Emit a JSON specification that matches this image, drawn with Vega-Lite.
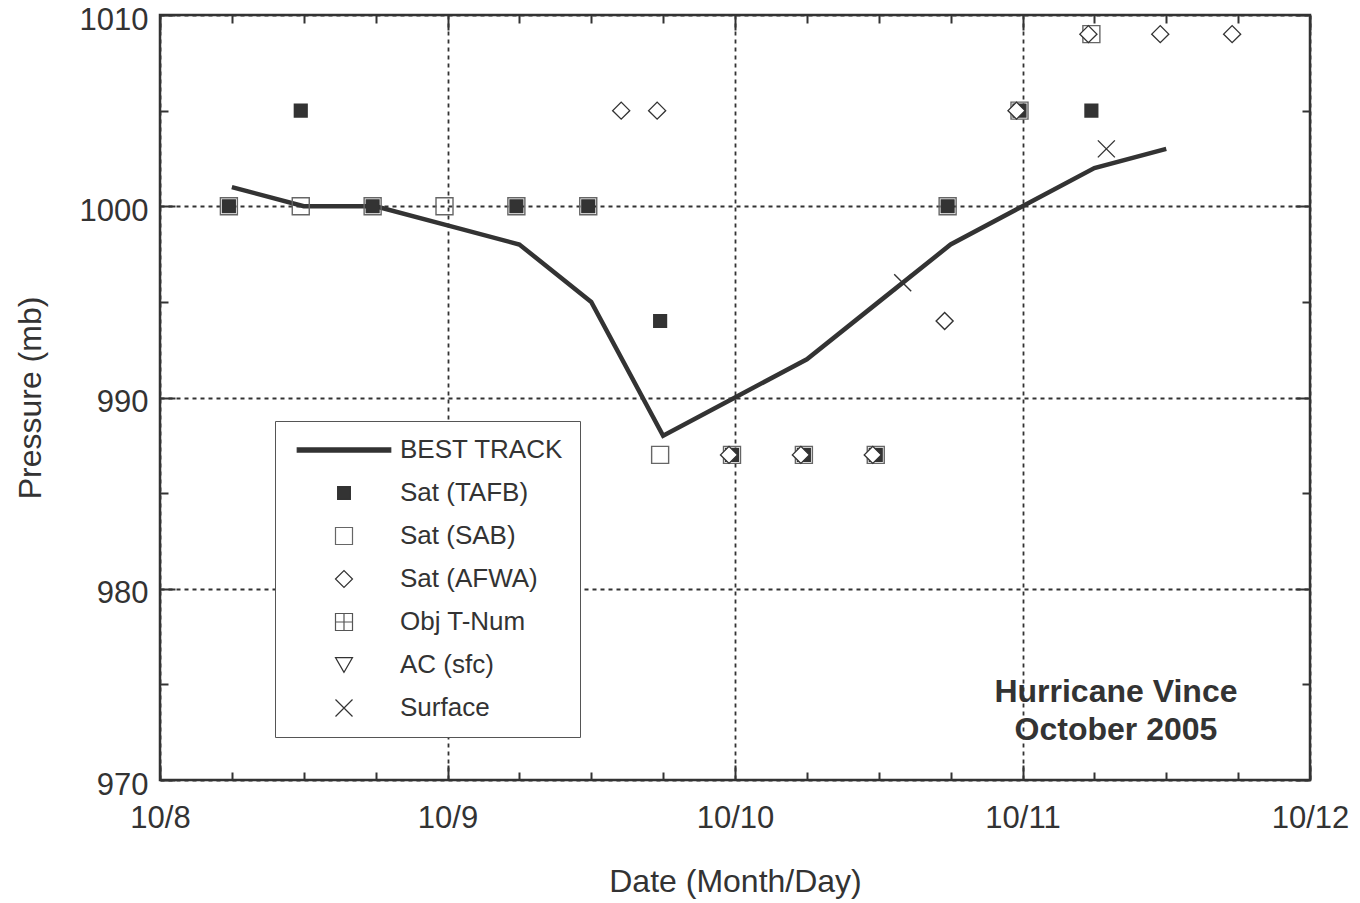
{
  "$schema": "https://vega.github.io/schema/vega-lite/v6.json",
  "width": 1150,
  "height": 765,
  "autosize": {"type": "none"},
  "padding": {"left": 160, "top": 15, "right": 50, "bottom": 123},
  "background": "white",
  "config": {
    "font": "Liberation Sans",
    "view": {"stroke": "#333333", "strokeWidth": 2.5},
    "axis": {"labelFont": "Liberation Sans", "titleFont": "Liberation Sans", "labelColor": "#333333", "titleColor": "#333333", "tickColor": "#333333", "tickWidth": 2, "titleFontWeight": "normal", "labelFlush": false}
  },
  "datasets": {
    "best": [
      {"time": "2005-10-08T06:00:00Z", "pressure": 1001},
      {"time": "2005-10-08T12:00:00Z", "pressure": 1000},
      {"time": "2005-10-08T18:00:00Z", "pressure": 1000},
      {"time": "2005-10-09T00:00:00Z", "pressure": 999},
      {"time": "2005-10-09T06:00:00Z", "pressure": 998},
      {"time": "2005-10-09T12:00:00Z", "pressure": 995},
      {"time": "2005-10-09T18:00:00Z", "pressure": 988},
      {"time": "2005-10-10T00:00:00Z", "pressure": 990},
      {"time": "2005-10-10T06:00:00Z", "pressure": 992},
      {"time": "2005-10-10T12:00:00Z", "pressure": 995},
      {"time": "2005-10-10T18:00:00Z", "pressure": 998},
      {"time": "2005-10-11T00:00:00Z", "pressure": 1000},
      {"time": "2005-10-11T06:00:00Z", "pressure": 1002},
      {"time": "2005-10-11T12:00:00Z", "pressure": 1003}
    ],
    "fixes": [
      {"series": "Sat (SAB)", "time": "2005-10-08T05:45:00Z", "pressure": 1000},
      {"series": "Sat (SAB)", "time": "2005-10-08T11:45:00Z", "pressure": 1000},
      {"series": "Sat (SAB)", "time": "2005-10-08T17:45:00Z", "pressure": 1000},
      {"series": "Sat (SAB)", "time": "2005-10-08T23:45:00Z", "pressure": 1000},
      {"series": "Sat (SAB)", "time": "2005-10-09T05:45:00Z", "pressure": 1000},
      {"series": "Sat (SAB)", "time": "2005-10-09T11:45:00Z", "pressure": 1000},
      {"series": "Sat (SAB)", "time": "2005-10-09T17:45:00Z", "pressure": 987},
      {"series": "Sat (SAB)", "time": "2005-10-09T23:45:00Z", "pressure": 987},
      {"series": "Sat (SAB)", "time": "2005-10-10T05:45:00Z", "pressure": 987},
      {"series": "Sat (SAB)", "time": "2005-10-10T11:45:00Z", "pressure": 987},
      {"series": "Sat (SAB)", "time": "2005-10-10T17:45:00Z", "pressure": 1000},
      {"series": "Sat (SAB)", "time": "2005-10-10T23:45:00Z", "pressure": 1005},
      {"series": "Sat (SAB)", "time": "2005-10-11T05:45:00Z", "pressure": 1009},
      {"series": "Sat (TAFB)", "time": "2005-10-08T05:45:00Z", "pressure": 1000},
      {"series": "Sat (TAFB)", "time": "2005-10-08T11:45:00Z", "pressure": 1005},
      {"series": "Sat (TAFB)", "time": "2005-10-08T17:45:00Z", "pressure": 1000},
      {"series": "Sat (TAFB)", "time": "2005-10-09T05:45:00Z", "pressure": 1000},
      {"series": "Sat (TAFB)", "time": "2005-10-09T11:45:00Z", "pressure": 1000},
      {"series": "Sat (TAFB)", "time": "2005-10-09T17:45:00Z", "pressure": 994},
      {"series": "Sat (TAFB)", "time": "2005-10-09T23:45:00Z", "pressure": 987},
      {"series": "Sat (TAFB)", "time": "2005-10-10T05:45:00Z", "pressure": 987},
      {"series": "Sat (TAFB)", "time": "2005-10-10T11:45:00Z", "pressure": 987},
      {"series": "Sat (TAFB)", "time": "2005-10-10T17:45:00Z", "pressure": 1000},
      {"series": "Sat (TAFB)", "time": "2005-10-10T23:45:00Z", "pressure": 1005},
      {"series": "Sat (TAFB)", "time": "2005-10-11T05:45:00Z", "pressure": 1005},
      {"series": "Sat (AFWA)", "time": "2005-10-09T14:30:00Z", "pressure": 1005},
      {"series": "Sat (AFWA)", "time": "2005-10-09T17:30:00Z", "pressure": 1005},
      {"series": "Sat (AFWA)", "time": "2005-10-09T23:30:00Z", "pressure": 987},
      {"series": "Sat (AFWA)", "time": "2005-10-10T05:30:00Z", "pressure": 987},
      {"series": "Sat (AFWA)", "time": "2005-10-10T11:30:00Z", "pressure": 987},
      {"series": "Sat (AFWA)", "time": "2005-10-10T17:30:00Z", "pressure": 994},
      {"series": "Sat (AFWA)", "time": "2005-10-10T23:30:00Z", "pressure": 1005},
      {"series": "Sat (AFWA)", "time": "2005-10-11T05:30:00Z", "pressure": 1009},
      {"series": "Sat (AFWA)", "time": "2005-10-11T11:30:00Z", "pressure": 1009},
      {"series": "Sat (AFWA)", "time": "2005-10-11T17:30:00Z", "pressure": 1009},
      {"series": "Surface", "time": "2005-10-10T14:00:00Z", "pressure": 996},
      {"series": "Surface", "time": "2005-10-11T07:00:00Z", "pressure": 1003}
    ],
    "note": [
      {"time": "2005-10-11T07:48:00Z", "pressure": 974.6, "label": "Hurricane Vince\nOctober 2005"}
    ]
  },
  "resolve": {"axis": {"x": "independent", "y": "independent"}},
  "layer": [
    {
      "data": {"name": "best"},
      "mark": {"type": "line", "color": "#333333", "strokeWidth": 4.5, "strokeJoin": "miter"},
      "encoding": {
        "x": {
          "field": "time", "type": "temporal",
          "scale": {"type": "utc", "domain": [{"year": 2005, "month": 10, "date": 8, "utc": true}, {"year": 2005, "month": 10, "date": 12, "utc": true}]},
          "axis": {
            "orient": "bottom",
            "values": [
              {"year": 2005, "month": 10, "date": 8, "utc": true},
              {"year": 2005, "month": 10, "date": 9, "utc": true},
              {"year": 2005, "month": 10, "date": 10, "utc": true},
              {"year": 2005, "month": 10, "date": 11, "utc": true},
              {"year": 2005, "month": 10, "date": 12, "utc": true}
            ],
            "labelExpr": "utcFormat(datum.value, '%-m/%-d')",
            "ticks": false, "domain": false,
            "grid": true, "gridDash": [4, 4], "gridColor": "#333333", "gridWidth": 1.8,
            "labelFontSize": 31, "labelPadding": 23,
            "title": "Date (Month/Day)", "titleFontSize": 32, "titlePadding": 33
          }
        },
        "y": {
          "field": "pressure", "type": "quantitative",
          "scale": {"domain": [970, 1010], "nice": false, "zero": false},
          "axis": {
            "orient": "left",
            "values": [970, 980, 990, 1000, 1010],
            "format": "d",
            "ticks": false, "domain": false,
            "grid": true, "gridDash": [4, 4], "gridColor": "#333333", "gridWidth": 1.8,
            "labelFontSize": 31, "labelPadding": 12, "labelOffset": 5,
            "title": "Pressure (mb)", "titleFontSize": 32, "titlePadding": 32
          }
        }
      }
    },
    {
      "data": {"name": "fixes"},
      "mark": {"type": "point", "opacity": 1, "strokeWidth": 1.4, "size": 289},
      "encoding": {
        "x": {
          "field": "time", "type": "temporal",
          "scale": {"type": "utc", "domain": [{"year": 2005, "month": 10, "date": 8, "utc": true}, {"year": 2005, "month": 10, "date": 12, "utc": true}]},
          "axis": {
            "orient": "top",
            "values": [
              {"year": 2005, "month": 10, "date": 8, "hours": 0, "utc": true},
              {"year": 2005, "month": 10, "date": 8, "hours": 6, "utc": true},
              {"year": 2005, "month": 10, "date": 8, "hours": 12, "utc": true},
              {"year": 2005, "month": 10, "date": 8, "hours": 18, "utc": true},
              {"year": 2005, "month": 10, "date": 9, "hours": 0, "utc": true},
              {"year": 2005, "month": 10, "date": 9, "hours": 6, "utc": true},
              {"year": 2005, "month": 10, "date": 9, "hours": 12, "utc": true},
              {"year": 2005, "month": 10, "date": 9, "hours": 18, "utc": true},
              {"year": 2005, "month": 10, "date": 10, "hours": 0, "utc": true},
              {"year": 2005, "month": 10, "date": 10, "hours": 6, "utc": true},
              {"year": 2005, "month": 10, "date": 10, "hours": 12, "utc": true},
              {"year": 2005, "month": 10, "date": 10, "hours": 18, "utc": true},
              {"year": 2005, "month": 10, "date": 11, "hours": 0, "utc": true},
              {"year": 2005, "month": 10, "date": 11, "hours": 6, "utc": true},
              {"year": 2005, "month": 10, "date": 11, "hours": 12, "utc": true},
              {"year": 2005, "month": 10, "date": 11, "hours": 18, "utc": true},
              {"year": 2005, "month": 10, "date": 12, "hours": 0, "utc": true}
            ],
            "labels": false, "domain": false, "grid": false, "title": null,
            "tickSize": {"condition": {"test": "utchours(datum.value) == 0", "value": -15}, "value": -8}
          }
        },
        "y": {
          "field": "pressure", "type": "quantitative",
          "scale": {"domain": [970, 1010], "nice": false, "zero": false},
          "axis": {
            "orient": "right",
            "values": [970, 975, 980, 985, 990, 995, 1000, 1005, 1010],
            "labels": false, "domain": false, "grid": false, "title": null,
            "tickSize": {"condition": {"test": "datum.value % 10 == 0", "value": -15}, "value": -8}
          }
        },
        "shape": {
          "field": "series", "type": "nominal",
          "scale": {
            "domain": ["BEST TRACK", "Sat (TAFB)", "Sat (SAB)", "Sat (AFWA)", "Obj T-Num", "AC (sfc)", "Surface"],
            "range": ["M-5.5,-0.24L5.5,-0.24L5.5,0.24L-5.5,0.24Z", "M-0.75,-0.75L0.75,-0.75L0.75,0.75L-0.75,0.75Z", "square", "diamond", "M-1,-1L1,-1L1,1L-1,1ZM0,-1L0,1M-1,0L1,0", "triangle-down", "M-1,-1L1,1M-1,1L1,-1"]
          },
          "legend": {
            "orient": "none", "legendX": 115, "legendY": 406,
            "title": null, "padding": 16,
            "strokeColor": "#555555", "fillColor": "white",
            "symbolSize": 289, "symbolOffset": 40, "labelOffset": 43,
            "symbolStrokeWidth": 1.2, "symbolOpacity": 1,
            "labelFontSize": 26, "labelFont": "Liberation Sans", "labelColor": "#333333",
            "labelLimit": 400,
            "rowPadding": 17
          }
        },
        "fill": {
          "field": "series", "type": "nominal",
          "scale": {
            "domain": ["BEST TRACK", "Sat (TAFB)", "Sat (SAB)", "Sat (AFWA)", "Obj T-Num", "AC (sfc)", "Surface"],
            "range": ["#333333", "#333333", "transparent", "white", "transparent", "transparent", "transparent"]
          }
        },
        "stroke": {
          "field": "series", "type": "nominal",
          "scale": {
            "domain": ["BEST TRACK", "Sat (TAFB)", "Sat (SAB)", "Sat (AFWA)", "Obj T-Num", "AC (sfc)", "Surface"],
            "range": ["#333333", "#333333", "#666666", "#333333", "#555555", "#333333", "#333333"]
          }
        }
      }
    },
    {
      "data": {"name": "note"},
      "mark": {"type": "text", "font": "Liberation Sans", "fontWeight": "bold", "fontSize": 32, "align": "center", "baseline": "middle", "lineBreak": "\n", "lineHeight": 38, "color": "#333333"},
      "encoding": {
        "x": {
          "field": "time", "type": "temporal",
          "scale": {"type": "utc", "domain": [{"year": 2005, "month": 10, "date": 8, "utc": true}, {"year": 2005, "month": 10, "date": 12, "utc": true}]},
          "axis": {
            "orient": "bottom",
            "values": [
              {"year": 2005, "month": 10, "date": 8, "hours": 0, "utc": true},
              {"year": 2005, "month": 10, "date": 8, "hours": 6, "utc": true},
              {"year": 2005, "month": 10, "date": 8, "hours": 12, "utc": true},
              {"year": 2005, "month": 10, "date": 8, "hours": 18, "utc": true},
              {"year": 2005, "month": 10, "date": 9, "hours": 0, "utc": true},
              {"year": 2005, "month": 10, "date": 9, "hours": 6, "utc": true},
              {"year": 2005, "month": 10, "date": 9, "hours": 12, "utc": true},
              {"year": 2005, "month": 10, "date": 9, "hours": 18, "utc": true},
              {"year": 2005, "month": 10, "date": 10, "hours": 0, "utc": true},
              {"year": 2005, "month": 10, "date": 10, "hours": 6, "utc": true},
              {"year": 2005, "month": 10, "date": 10, "hours": 12, "utc": true},
              {"year": 2005, "month": 10, "date": 10, "hours": 18, "utc": true},
              {"year": 2005, "month": 10, "date": 11, "hours": 0, "utc": true},
              {"year": 2005, "month": 10, "date": 11, "hours": 6, "utc": true},
              {"year": 2005, "month": 10, "date": 11, "hours": 12, "utc": true},
              {"year": 2005, "month": 10, "date": 11, "hours": 18, "utc": true},
              {"year": 2005, "month": 10, "date": 12, "hours": 0, "utc": true}
            ],
            "labels": false, "domain": false, "grid": false, "title": null,
            "tickSize": {"condition": {"test": "utchours(datum.value) == 0", "value": -15}, "value": -8}
          }
        },
        "y": {
          "field": "pressure", "type": "quantitative",
          "scale": {"domain": [970, 1010], "nice": false, "zero": false},
          "axis": {
            "orient": "left",
            "values": [970, 975, 980, 985, 990, 995, 1000, 1005, 1010],
            "labels": false, "domain": false, "grid": false, "title": null,
            "tickSize": {"condition": {"test": "datum.value % 10 == 0", "value": -15}, "value": -8}
          }
        },
        "text": {"field": "label", "type": "nominal"}
      }
    }
  ]
}
